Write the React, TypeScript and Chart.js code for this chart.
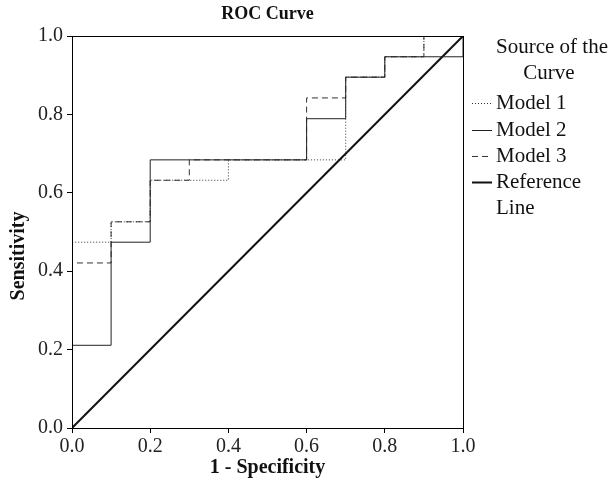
import React, { useEffect, useRef } from "react";
import { Chart, registerables } from "chart.js";

Chart.register(...registerables);

const chartTitle = "ROC Curve";
const xAxisTitle = "1 - Specificity";
const yAxisTitle = "Sensitivity";
const legendTitle = ["Source of the", "Curve"];
const seriesNames = ["Model 1", "Model 2", "Model 3", "Reference Line"];

const model1Fpr = [0, 0, 0.1, 0.2, 0.4, 0.7, 0.8, 0.9, 1];
const model1Tpr = [0, 0.474, 0.526, 0.632, 0.684, 0.895, 0.947, 1, 1];

const model2Fpr = [0, 0, 0.1, 0.2, 0.6, 0.7, 0.8, 1];
const model2Tpr = [0, 0.211, 0.474, 0.684, 0.789, 0.895, 0.947, 1];

const model3Fpr = [0, 0, 0.1, 0.2, 0.3, 0.6, 0.7, 0.8, 0.9, 1];
const model3Tpr = [0, 0.421, 0.526, 0.632, 0.684, 0.842, 0.895, 0.947, 1, 1];

const referenceFpr = [0, 1];
const referenceTpr = [0, 1];

const SERIF = "'Liberation Serif', 'Times New Roman', serif";

const pts = (xs: number[], ys: number[]) => xs.map((x, i) => ({ x, y: ys[i] }));

const styles = [
  { color: "#333", width: 1, dash: [1, 2] },
  { color: "#222", width: 1, dash: [] as number[] },
  { color: "#333", width: 1, dash: [6, 4] },
  { color: "#111", width: 2, dash: [] as number[] },
];

const decorPlugin = {
  id: "decor",
  afterDraw(chart: any) {
    const { ctx, chartArea } = chart;
    const { left, right, top, bottom } = chartArea;
    ctx.save();
    // frame
    ctx.strokeStyle = "#000";
    ctx.lineWidth = 1;
    ctx.setLineDash([]);
    ctx.strokeRect(Math.round(left) + 0.5, Math.round(top) + 0.5, Math.round(right - left), Math.round(bottom - top));
    // title
    ctx.fillStyle = "#111";
    ctx.font = `bold 18px ${SERIF}`;
    ctx.textAlign = "center";
    ctx.textBaseline = "middle";
    ctx.fillText(chartTitle, (left + right) / 2, 14);
    // y axis title
    ctx.save();
    ctx.translate(19, 256);
    ctx.rotate(-Math.PI / 2);
    ctx.font = `bold 20px ${SERIF}`;
    ctx.fillText(yAxisTitle, 0, 0);
    ctx.restore();
    // legend
    ctx.font = `21px ${SERIF}`;
    ctx.fillText(legendTitle[0], 552, 47);
    ctx.fillText(legendTitle[1], 549, 73);
    const rows = [103, 130, 156, 182];
    ctx.textAlign = "left";
    seriesNames.forEach((name, i) => {
      const y = rows[i];
      const s = styles[i];
      ctx.beginPath();
      ctx.strokeStyle = s.color;
      ctx.lineWidth = s.width;
      ctx.setLineDash(s.dash);
      ctx.moveTo(472, y + 0.5);
      ctx.lineTo(492, y + 0.5);
      ctx.stroke();
      ctx.setLineDash([]);
      ctx.fillStyle = "#111";
      if (name === "Reference Line") {
        ctx.fillText("Reference", 496, y);
        ctx.fillText("Line", 496, y + 26);
      } else {
        ctx.fillText(name, 496, y);
      }
    });
    ctx.restore();
  },
};

export default function App() {
  const ref = useRef<HTMLCanvasElement | null>(null);
  useEffect(() => {
    if (!ref.current) return;
    const data = [
      pts(model1Fpr, model1Tpr),
      pts(model2Fpr, model2Tpr),
      pts(model3Fpr, model3Tpr),
      pts(referenceFpr, referenceTpr),
    ];
    const chart = new Chart(ref.current, {
      type: "scatter",
      data: {
        datasets: data.map((d, i) => ({
          label: seriesNames[i],
          data: d,
          showLine: true,
          stepped: i < 3 ? "before" : false,
          borderColor: styles[i].color,
          borderWidth: styles[i].width,
          borderDash: styles[i].dash,
          pointRadius: 0,
          fill: false,
        })) as any,
      },
      options: {
        animation: false,
        responsive: false,
        maintainAspectRatio: false,
        layout: { padding: { top: 36, right: 149, left: 0, bottom: 0 } },
        plugins: { legend: { display: false }, title: { display: false }, tooltip: { enabled: false } },
        scales: {
          x: {
            type: "linear",
            min: 0,
            max: 1,
            ticks: {
              stepSize: 0.2,
              padding: 2,
              color: "#222",
              font: { family: SERIF, size: 20 },
              callback: (v: any) => Number(v).toFixed(1),
            },
            grid: { drawOnChartArea: false, drawTicks: true, tickLength: 5, color: "#000" },
            border: { display: true, color: "#000" },
            title: {
              display: true,
              text: xAxisTitle,
              color: "#111",
              font: { family: SERIF, size: 20, weight: "bold" },
              padding: { top: 0, bottom: 4 },
            },
            afterFit: (s: any) => {
              s.height = 56;
            },
          },
          y: {
            type: "linear",
            min: 0,
            max: 1,
            ticks: {
              stepSize: 0.2,
              padding: 4,
              color: "#222",
              font: { family: SERIF, size: 20 },
              callback: (v: any) => Number(v).toFixed(1),
            },
            grid: { drawOnChartArea: false, drawTicks: true, tickLength: 5, color: "#000" },
            border: { display: true, color: "#000" },
            title: { display: false },
            afterFit: (s: any) => {
              s.width = 72;
            },
          },
        },
      } as any,
      plugins: [decorPlugin],
    });
    return () => chart.destroy();
  }, []);
  return (
    <div style={{ position: "absolute", left: 0, top: 0, width: 612, height: 484, background: "#fff" }}>
      <canvas ref={ref} width={612} height={484} style={{ display: "block" }} />
    </div>
  );
}
